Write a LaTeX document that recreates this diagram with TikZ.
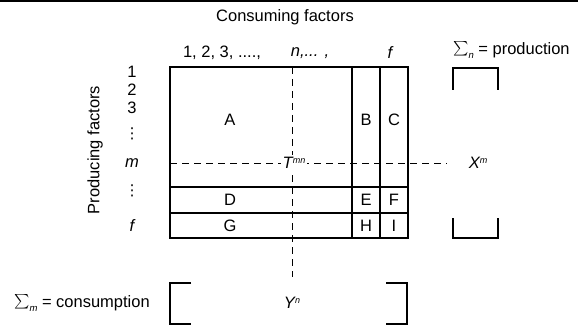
\documentclass[tikz,border=0pt]{standalone}
\usepackage{fontspec}
\usepackage{graphicx}
\setmainfont{Liberation Sans}
\newfontfamily\symfont{DejaVu Sans}
\newcommand{\bigsig}{\raisebox{-1.5pt}{\scalebox{1.45}{$\sum$}}}
\begin{document}
\begin{tikzpicture}[x=1pt,y=-1pt,
  every node/.style={inner sep=0pt, font=\fontsize{16.5}{18}\selectfont},
  gridline/.style={line width=1.1pt},
  dshline/.style={line width=1pt, dash pattern=on 7pt off 5pt},
  brk/.style={line width=1.2pt},
  lbl/.style={fill=white, inner sep=2pt},
  dots/.style={font=\fontsize{15}{15}\selectfont\symfont}]
\useasboundingbox (0,0) rectangle (578,326);
% top rule
\coordinate (ruleL) at (0,1.5);
\coordinate (ruleR) at (578,1.5);
\draw[line width=2pt] (ruleL) -- (ruleR);

% headings
\node (title) at (285,17) {Consuming factors};
\node (c1) at (222,53) {1, 2, 3, ....,};
\node (cn) at (310,53) {\itshape n,... ,};
\node (cf) at (390,53) {\itshape f};
\node[rotate=90] (prod) at (95,150) {Producing factors};

% row labels
\node (r1) at (132,72) {1};
\node (r2) at (132,90) {2};
\node (r3) at (132,108) {3};
\node[dots] (rd1) at (132,134) {⋮};
\node (rm) at (132,163) {\itshape m};
\node[dots] (rd2) at (132,191) {⋮};
\node (rf) at (132,226) {\itshape f};

% matrix grid
\coordinate (tl) at (170,67);
\coordinate (br) at (408,238);
\coordinate (v1t) at (352,67);  \coordinate (v1b) at (352,238);
\coordinate (v2t) at (380,67);  \coordinate (v2b) at (380,238);
\coordinate (h1l) at (170,187); \coordinate (h1r) at (408,187);
\coordinate (h2l) at (170,213); \coordinate (h2r) at (408,213);
\draw[gridline] (tl) rectangle (br);
\draw[gridline] (v1t) -- (v1b);
\draw[gridline] (v2t) -- (v2b);
\draw[gridline] (h1l) -- (h1r);
\draw[gridline] (h2l) -- (h2r);

% dashed lines
\coordinate (dvt) at (292,67);
\coordinate (dvb) at (292,277);
\coordinate (dhl) at (170,163);
\coordinate (dhr) at (447,163);
\draw[dshline] (dvt) -- (dvb);
\draw[dshline] (dhl) -- (dhr);

% cell labels
\node (A) at (230,120) {A};
\node (B) at (366,120) {B};
\node (C) at (394,120) {C};
\node (D) at (230,200) {D};
\node (E) at (366,200) {E};
\node (F) at (394,200) {F};
\node (G) at (230,226) {G};
\node (H) at (366,226) {H};
\node (I) at (394,226) {I};
\node[lbl] (T) at (294,163) {\itshape T\raisebox{5pt}{\fontsize{9}{9}\selectfont mn}};

% production column
\node[anchor=west] (sumn) at (453,50) {\bigsig\raisebox{-4pt}{\fontsize{9.5}{9.5}\selectfont\itshape n} = production};
\node (X) at (478,163) {\itshape X\raisebox{5pt}{\fontsize{9}{9}\selectfont m}};
\coordinate (pt1) at (453,90); \coordinate (pt2) at (453,68);
\coordinate (pt3) at (498,68); \coordinate (pt4) at (498,90);
\draw[brk] (pt1) -- (pt2) -- (pt3) -- (pt4);
\coordinate (pb1) at (453,218); \coordinate (pb2) at (453,238);
\coordinate (pb3) at (498,238); \coordinate (pb4) at (498,218);
\draw[brk] (pb1) -- (pb2) -- (pb3) -- (pb4);

% consumption row
\node[anchor=west] (summ) at (14,303) {\bigsig\raisebox{-4pt}{\fontsize{9.5}{9.5}\selectfont\itshape m} = consumption};
\node (Y) at (292,303) {\itshape Y\raisebox{5pt}{\fontsize{9}{9}\selectfont n}};
\coordinate (bl1) at (191,283); \coordinate (bl2) at (170,283);
\coordinate (bl3) at (170,324); \coordinate (bl4) at (191,324);
\draw[brk] (bl1) -- (bl2) -- (bl3) -- (bl4);
\coordinate (br1) at (386,283); \coordinate (br2) at (407,283);
\coordinate (br3) at (407,324); \coordinate (br4) at (386,324);
\draw[brk] (br1) -- (br2) -- (br3) -- (br4);
\end{tikzpicture}
\end{document}
